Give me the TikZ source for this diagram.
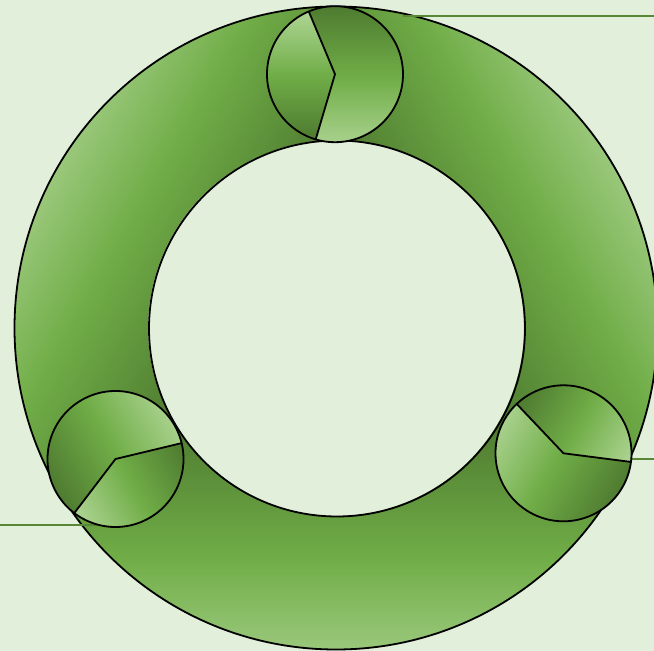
\documentclass[tikz,border=0pt]{standalone}
\definecolor{bg}{RGB}{226,239,218}
\definecolor{gdark}{RGB}{78,122,48}
\definecolor{gmid}{RGB}{112,173,71}
\definecolor{glight}{RGB}{174,213,148}
\definecolor{linkc}{RGB}{88,135,56}
\tikzset{
  ringseg/.style={top color=gdark,bottom color=glight,middle color=gmid},
  pieA/.style={top color=gdark,bottom color=glight,middle color=gmid},
  pieB/.style={top color=glight,bottom color=gdark,middle color=gmid},
  outline/.style={draw=black,line width=1.8pt},
  link/.style={draw=linkc,line width=2.4pt}
}
\newcommand\mysegment{%
  \shade[ringseg] (209.5:321.5) arc[start angle=209.5,end angle=330.5,radius=321.5]
    -- (330.5:188) arc[start angle=330.5,end angle=209.5,radius=188] -- cycle;
}
\newcommand\mysmallcirc{%
  \shade[pieA] (0,0) -- (253.5:68) arc[start angle=253.5,end angle=472.7,radius=68] -- cycle;
  \shade[pieB] (0,0) -- (112.7:68) arc[start angle=112.7,end angle=253.5,radius=68] -- cycle;
  \draw[outline] (0,0) circle[radius=68];
  \draw[outline,line join=miter] (112.7:68) -- (0,0) -- (253.5:68);
}
\begin{document}
\begin{tikzpicture}[x=1pt,y=1pt]
  \useasboundingbox (0,0) rectangle (654,651);
  \fill[bg] (0,0) rectangle (654,651);
  \coordinate (C) at (336,323);
  % ring segments
  \begin{scope}[shift={(336,323)}]
    \mysegment
  \end{scope}
  \begin{scope}[transform canvas={shift={(336,323)},rotate=120}]
    \mysegment
  \end{scope}
  \begin{scope}[transform canvas={shift={(336,323)},rotate=-120}]
    \mysegment
  \end{scope}
  \draw[outline] (C) circle[radius=321.5];
  \draw[outline] (337,322.5) circle[radius=188];
  % connector lines
  \coordinate (t1) at (403,635);
  \coordinate (t2) at (654,635);
  \coordinate (r1) at (632,192);
  \coordinate (r2) at (654,192);
  \coordinate (l1) at (0,126);
  \coordinate (l2) at (100,126);
  \draw[link] (t1) -- (t2);
  \draw[link] (r1) -- (r2);
  \draw[link] (l1) -- (l2);
  % small circles
  \begin{scope}[shift={(335,576.8)}]
    \mysmallcirc
  \end{scope}
  \begin{scope}[transform canvas={shift={(115.5,192)},rotate=120}]
    \mysmallcirc
  \end{scope}
  \begin{scope}[transform canvas={shift={(563.5,197.7)},rotate=-120}]
    \mysmallcirc
  \end{scope}
\end{tikzpicture}
\end{document}
